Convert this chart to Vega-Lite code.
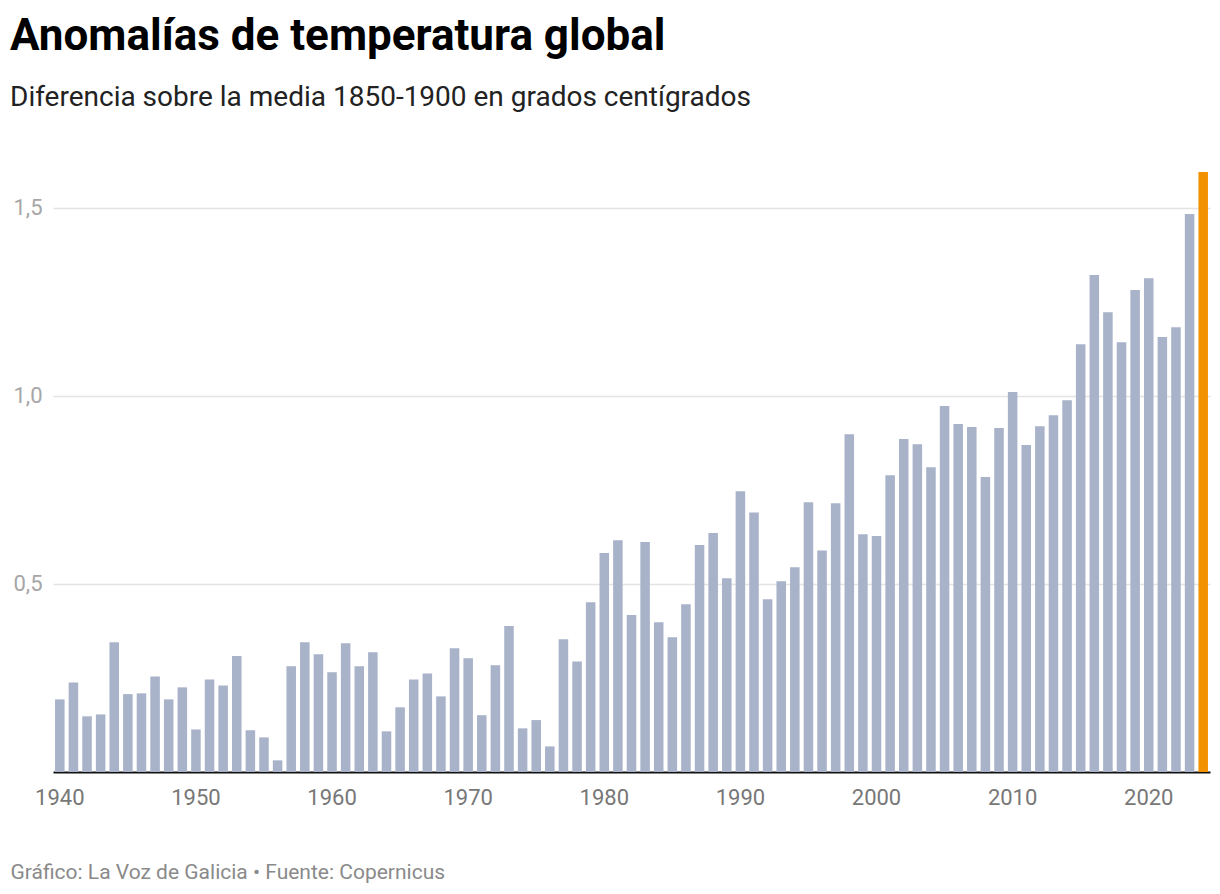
{
  "$schema": "https://vega.github.io/schema/vega-lite/v6.json",
  "width": 1157,
  "height": 602,
  "autosize": {"type": "none"},
  "padding": {"left": 53, "top": 170, "right": 10, "bottom": 122},
  "background": "#ffffff",
  "title": {
    "text": "Anomalías de temperatura global",
    "subtitle": "Diferencia sobre la media 1850-1900 en grados centígrados",
    "anchor": "start",
    "frame": "group",
    "dx": -43,
    "offset": 58,
    "font": "Roboto",
    "fontSize": 44,
    "fontWeight": "bold",
    "color": "#000000",
    "subtitleFont": "Roboto",
    "subtitleFontSize": 28,
    "subtitleColor": "#222222",
    "subtitlePadding": 25
  },
  "data": {
    "values": [
      {"year": 1940, "value": 0.193}, {"year": 1941, "value": 0.238}, {"year": 1942, "value": 0.148}, {"year": 1943, "value": 0.153}, {"year": 1944, "value": 0.345},
      {"year": 1945, "value": 0.207}, {"year": 1946, "value": 0.209}, {"year": 1947, "value": 0.254}, {"year": 1948, "value": 0.193}, {"year": 1949, "value": 0.225},
      {"year": 1950, "value": 0.113}, {"year": 1951, "value": 0.246}, {"year": 1952, "value": 0.230}, {"year": 1953, "value": 0.308}, {"year": 1954, "value": 0.111},
      {"year": 1955, "value": 0.092}, {"year": 1956, "value": 0.031}, {"year": 1957, "value": 0.281}, {"year": 1958, "value": 0.345}, {"year": 1959, "value": 0.313},
      {"year": 1960, "value": 0.265}, {"year": 1961, "value": 0.342}, {"year": 1962, "value": 0.281}, {"year": 1963, "value": 0.318}, {"year": 1964, "value": 0.108},
      {"year": 1965, "value": 0.172}, {"year": 1966, "value": 0.246}, {"year": 1967, "value": 0.262}, {"year": 1968, "value": 0.201}, {"year": 1969, "value": 0.329},
      {"year": 1970, "value": 0.302}, {"year": 1971, "value": 0.151}, {"year": 1972, "value": 0.284}, {"year": 1973, "value": 0.388}, {"year": 1974, "value": 0.116},
      {"year": 1975, "value": 0.138}, {"year": 1976, "value": 0.068}, {"year": 1977, "value": 0.353}, {"year": 1978, "value": 0.294}, {"year": 1979, "value": 0.451},
      {"year": 1980, "value": 0.582}, {"year": 1981, "value": 0.616}, {"year": 1982, "value": 0.417}, {"year": 1983, "value": 0.611}, {"year": 1984, "value": 0.398},
      {"year": 1985, "value": 0.358}, {"year": 1986, "value": 0.446}, {"year": 1987, "value": 0.603}, {"year": 1988, "value": 0.635}, {"year": 1989, "value": 0.515},
      {"year": 1990, "value": 0.746}, {"year": 1991, "value": 0.690}, {"year": 1992, "value": 0.459}, {"year": 1993, "value": 0.507}, {"year": 1994, "value": 0.544},
      {"year": 1995, "value": 0.717}, {"year": 1996, "value": 0.589}, {"year": 1997, "value": 0.714}, {"year": 1998, "value": 0.898}, {"year": 1999, "value": 0.632},
      {"year": 2000, "value": 0.627}, {"year": 2001, "value": 0.789}, {"year": 2002, "value": 0.885}, {"year": 2003, "value": 0.871}, {"year": 2004, "value": 0.810},
      {"year": 2005, "value": 0.973}, {"year": 2006, "value": 0.925}, {"year": 2007, "value": 0.917}, {"year": 2008, "value": 0.784}, {"year": 2009, "value": 0.914},
      {"year": 2010, "value": 1.010}, {"year": 2011, "value": 0.869}, {"year": 2012, "value": 0.919}, {"year": 2013, "value": 0.948}, {"year": 2014, "value": 0.988},
      {"year": 2015, "value": 1.137}, {"year": 2016, "value": 1.321}, {"year": 2017, "value": 1.222}, {"year": 2018, "value": 1.142}, {"year": 2019, "value": 1.281},
      {"year": 2020, "value": 1.312}, {"year": 2021, "value": 1.156}, {"year": 2022, "value": 1.182}, {"year": 2023, "value": 1.483}, {"year": 2024, "value": 1.595}
    ]
  },
  "mark": {"type": "bar"},
  "encoding": {
    "x": {
      "field": "year",
      "type": "ordinal",
      "scale": {"paddingInner": 0.3, "paddingOuter": 0.15},
      "axis": {
        "title": "Gráfico: La Voz de Galicia • Fuente: Copernicus",
        "titleFont": "Roboto",
        "titleFontSize": 21,
        "titleFontWeight": "normal",
        "titleColor": "#8a8a8a",
        "titleAnchor": "start",
        "titleAlign": "left",
        "titleBaseline": "alphabetic",
        "titleX": -43,
        "titleY": 106,
        "labelExpr": "datum.value % 10 === 0 ? datum.value : ''",
        "labelAngle": 0,
        "labelFont": "Roboto",
        "labelFontSize": 22,
        "labelColor": "#777777",
        "labelPadding": 15,
        "labelOverlap": false,
        "ticks": false,
        "domain": true,
        "domainColor": "#111111",
        "domainWidth": 2,
        "grid": false
      }
    },
    "y": {
      "field": "value",
      "type": "quantitative",
      "scale": {"domain": [0, 1.6], "nice": false},
      "axis": {
        "title": null,
        "values": [0.5, 1, 1.5],
        "format": ".1f",
        "labelFont": "Roboto",
        "labelFontSize": 22,
        "labelColor": "#a6a6a6",
        "labelPadding": 11,
        "ticks": false,
        "domain": false,
        "grid": true,
        "gridColor": "#e4e4e4",
        "gridWidth": 1.5
      }
    },
    "color": {
      "condition": {"test": "datum.year === 2024", "value": "#f39200"},
      "value": "#a8b2c9"
    }
  },
  "config": {
    "view": {"stroke": null},
    "locale": {
      "number": {"decimal": ",", "thousands": ".", "grouping": [3], "currency": ["", " €"]}
    }
  }
}
